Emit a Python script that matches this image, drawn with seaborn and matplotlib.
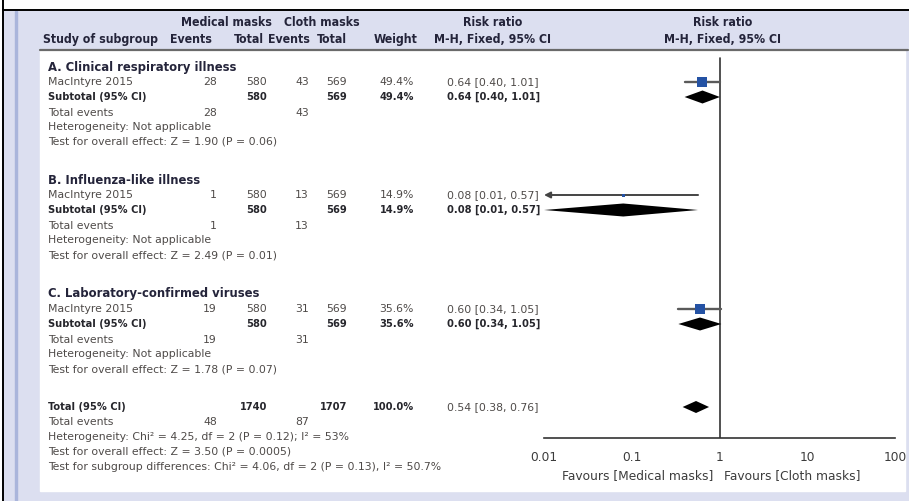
import numpy as np
import pandas as pd
import matplotlib
matplotlib.use('Agg')
import matplotlib.pyplot as plt
import seaborn as sns
from matplotlib import font_manager as fm
from matplotlib.patches import Rectangle
from matplotlib.ticker import NullLocator

# --- data ---
groups = ["A. Clinical respiratory illness", "B. Influenza-like illness",
          "C. Laboratory-confirmed viruses"]
study = "MacIntyre 2015"
med_events = [28, 1, 19]
med_total = [580, 580, 580]
cloth_events = [43, 13, 31]
cloth_total = [569, 569, 569]
weights = [49.4, 14.9, 35.6]
rr = [0.64, 0.08, 0.60]
rr_lo = [0.40, 0.01, 0.34]
rr_hi = [1.01, 0.57, 1.05]
z_vals = ["1.90", "2.49", "1.78"]
p_vals = ["0.06", "0.01", "0.07"]

tot_med, tot_cloth = 1740, 1707
tot_med_events, tot_cloth_events = 48, 87
tot_weight = 100.0
tot_rr, tot_lo, tot_hi = 0.54, 0.38, 0.76
het_total = "Heterogeneity: Chi² = 4.25, df = 2 (P = 0.12); I² = 53%"
overall_total = "Test for overall effect: Z = 3.50 (P = 0.0005)"
subgroup_test = "Test for subgroup differences: Chi² = 4.06, df = 2 (P = 0.13), I² = 50.7%"

ticks = [0.01, 0.1, 1, 10, 100]
tick_labels = ["0.01", "0.1", "1", "10", "100"]

# --- styles ---
W, H = 909, 501
sns.set_style("white")
plt.rcParams['font.family'] = ['DejaVu Sans']

# pick a narrow bold face for headers and subtotal rows, whatever is installed
names = {f.name for f in fm.fontManager.ttflist}
cond = [f.fname for f in fm.fontManager.ttflist
        if 'DejaVuSansCondensed-Bold.ttf' in f.fname]
if cond:
    narrow_kw, fs_nb, fs_head = dict(fontproperties=fm.FontProperties(fname=cond[0])), 7.9, 8.8
elif 'Liberation Sans Narrow' in names:
    narrow_kw, fs_nb, fs_head = dict(family='Liberation Sans Narrow'), 8.4, 9.4
else:
    narrow_kw, fs_nb, fs_head = dict(family='Liberation Sans'), 7.5, 8.2

body_col = '#4e4a48'
bold_col = '#26262c'
head_col = '#24243a'
fs = 7.8
square_px = [10, 3, 10]
sq_col = '#2452a4'

fig = plt.figure(figsize=(W / 100, H / 100), dpi=100)
bg = fig.add_axes([0, 0, 1, 1])
bg.set_xlim(0, W)
bg.set_ylim(H, 0)
bg.axis('off')

# frame and panels
bg.add_patch(Rectangle((4, 11), W - 4, H - 11, color='#dcdff0', zorder=0))
bg.add_patch(Rectangle((14.5, 11), 2.5, H - 11, color='#aab5db', zorder=0))
bg.add_patch(Rectangle((40, 51), 865, 440, color='white', zorder=0))
bg.plot([40, 908], [50, 50], color='#6a6a6a', lw=1.6, zorder=1)
bg.plot([2.5, 2.5], [0, H], color='black', lw=1.4)
bg.plot([2.5, W], [10, 10], color='black', lw=1.4)


def txt(x, y, s, ha='left', bold=False, size=fs, color=None, **kw):
    if color is None:
        color = bold_col if bold else body_col
    t = bg.text(x, y, s, ha=ha, va='center', color=color, **kw)
    t.set_fontsize(size)
    t.set_fontweight('bold' if bold else 'normal')
    return t


def btxt(x, y, s, ha='left'):
    # condensed bold used for subtotal / total rows
    txt(x, y, s, ha=ha, bold=True, size=fs_nb, **narrow_kw)


def htxt(x, y, s, ha='left'):
    txt(x, y, s, ha=ha, bold=True, size=fs_head, color=head_col, **narrow_kw)


# column anchors (px)
x_lab = 48
x_ev_m, x_tot_m, x_ev_c, x_tot_c, x_w, x_rr = 217, 267, 309, 347, 414, 447

# header
htxt(226, 22, "Medical masks", ha='center')
htxt(322, 22, "Cloth masks", ha='center')
htxt(493, 22, "Risk ratio", ha='center')
htxt(723, 22, "Risk ratio", ha='center')
htxt(43, 39, "Study of subgroup")
htxt(212, 39, "Events", ha='right')
htxt(264, 39, "Total", ha='right')
htxt(310, 39, "Events", ha='right')
htxt(347, 39, "Total", ha='right')
htxt(418, 39, "Weight", ha='right')
htxt(493, 39, "M-H, Fixed, 95% CI", ha='center')
htxt(723, 39, "M-H, Fixed, 95% CI", ha='center')

group_top = [67, 180, 294]
offs = [0, 15, 30, 46, 60, 75]
study_y = [g + offs[1] for g in group_top]
sub_y = [g + offs[2] for g in group_top]

for i, g in enumerate(groups):
    y0 = group_top[i]
    ci = f"{rr[i]:.2f} [{rr_lo[i]:.2f}, {rr_hi[i]:.2f}]"
    txt(x_lab, y0 + offs[0], g, bold=True, size=8.4, color=head_col)
    ys = y0 + offs[1]
    txt(x_lab, ys, study)
    txt(x_ev_m, ys, str(med_events[i]), ha='right')
    txt(x_tot_m, ys, str(med_total[i]), ha='right')
    txt(x_ev_c, ys, str(cloth_events[i]), ha='right')
    txt(x_tot_c, ys, str(cloth_total[i]), ha='right')
    txt(x_w, ys, f"{weights[i]:.1f}%", ha='right')
    txt(x_rr, ys, ci)
    yb = y0 + offs[2]
    btxt(x_lab, yb, "Subtotal (95% CI)")
    btxt(x_tot_m, yb, str(med_total[i]), ha='right')
    btxt(x_tot_c, yb, str(cloth_total[i]), ha='right')
    btxt(x_w, yb, f"{weights[i]:.1f}%", ha='right')
    btxt(x_rr, yb, ci)
    txt(x_lab, y0 + offs[3], "Total events")
    txt(x_ev_m, y0 + offs[3], str(med_events[i]), ha='right')
    txt(x_ev_c, y0 + offs[3], str(cloth_events[i]), ha='right')
    txt(x_lab, y0 + offs[4], "Heterogeneity: Not applicable")
    txt(x_lab, y0 + offs[5], f"Test for overall effect: Z = {z_vals[i]} (P = {p_vals[i]})")

# overall block
yt = 407
btxt(x_lab, yt, "Total (95% CI)")
btxt(x_tot_m, yt, str(tot_med), ha='right')
btxt(x_tot_c, yt, str(tot_cloth), ha='right')
btxt(x_w, yt, f"{tot_weight:.1f}%", ha='right')
txt(x_rr, yt, f"{tot_rr:.2f} [{tot_lo:.2f}, {tot_hi:.2f}]")
txt(x_lab, yt + 15, "Total events")
txt(x_ev_m, yt + 15, str(tot_med_events), ha='right')
txt(x_ev_c, yt + 15, str(tot_cloth_events), ha='right')
txt(x_lab, yt + 30, het_total)
txt(x_lab, yt + 45, overall_total)
txt(x_lab, yt + 60, subgroup_test)

# --- forest panel (y in the same pixel rows) ---
ax_bottom = 438
ax = fig.add_axes([544 / W, (H - ax_bottom) / H, 351 / W, ax_bottom / H])
ax.set_facecolor('none')
ax.set_xscale('log')
ax.set_xlim(0.01, 100)
ax.set_ylim(ax_bottom, 0)
for side in ['left', 'right', 'top']:
    ax.spines[side].set_visible(False)
ax.spines['bottom'].set_color('#333333')
ax.spines['bottom'].set_linewidth(1.2)
ax.set_yticks([])
ax.set_xticks(ticks)
ax.set_xticklabels(tick_labels)
ax.xaxis.set_minor_locator(NullLocator())
ax.tick_params(axis='x', direction='inout', length=7, width=1.1, pad=6,
               labelsize=8.8, labelcolor='#3c3c3c', color='#333333')

ax.plot([1, 1], [58, ax_bottom], color='#333333', lw=1.2, zorder=1)

# study CIs
for i in range(3):
    if rr_lo[i] <= 0.01:
        ax.annotate('', xy=(0.01, study_y[i]), xytext=(rr_hi[i], study_y[i]),
                    arrowprops=dict(arrowstyle='-|>', color='#444444', lw=1.4,
                                    mutation_scale=9, shrinkA=0, shrinkB=0))
    else:
        ax.plot([rr_lo[i], rr_hi[i]], [study_y[i], study_y[i]],
                color='#5a5a5a', lw=1.7, zorder=2)

pts = pd.DataFrame({'rr': rr, 'y': study_y})
sns.scatterplot(data=pts, x='rr', y='y', marker='s', s=[(p * 0.72) ** 2 for p in square_px],
                color=sq_col, linewidth=0, legend=False, ax=ax, zorder=3)
ax.set_xlabel('')
ax.set_ylabel('')


def diamond(lo, mid, hi, y, h=6.5):
    ax.fill([lo, mid, hi, mid], [y, y - h, y, y + h], color='black', lw=0, zorder=3)


for i in range(3):
    diamond(rr_lo[i], rr[i], rr_hi[i], sub_y[i])
diamond(tot_lo, tot_rr, tot_hi, yt, h=6)

txt(713, 476, "Favours [Medical masks]", ha='right', size=8.8, color='#3c3c3c')
txt(724, 476, "Favours [Cloth masks]", ha='left', size=8.8, color='#3c3c3c')

fig.savefig('out.png', dpi=100)
